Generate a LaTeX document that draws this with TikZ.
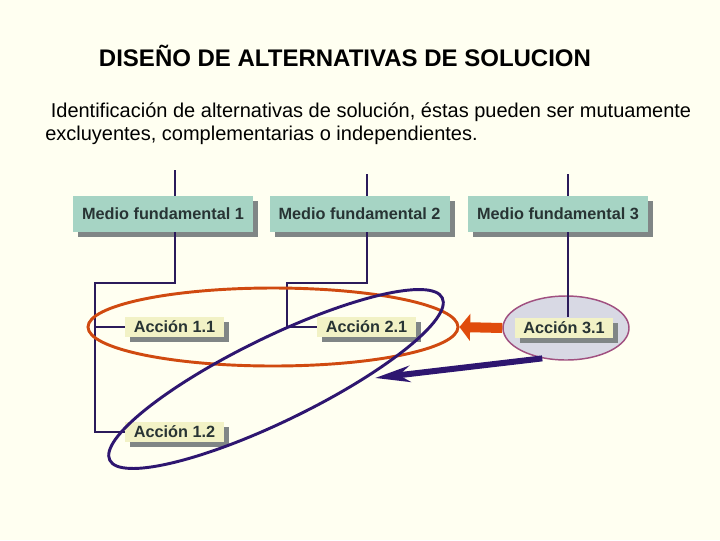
\documentclass[tikz,border=0pt]{standalone}
\usepackage{fontspec}
\setmainfont{Liberation Sans}
\usetikzlibrary{shapes.geometric,shadows,arrows.meta}
\definecolor{bgc}{RGB}{255,255,241}
\definecolor{tealbox}{RGB}{166,212,196}
\definecolor{yelbox}{RGB}{242,242,198}
\definecolor{shadowc}{RGB}{128,134,134}
\definecolor{boxtext}{RGB}{40,52,52}
\definecolor{connc}{RGB}{43,27,91}
\definecolor{orangec}{RGB}{208,74,16}
\definecolor{orangearr}{RGB}{224,76,12}
\definecolor{purplec}{RGB}{46,22,112}
\definecolor{ellfill}{RGB}{216,217,228}
\definecolor{elldraw}{RGB}{160,80,128}
\tikzset{
  mediobox/.style={rectangle, fill=tealbox, text=boxtext, font=\bfseries\fontsize{12.2pt}{14pt}\selectfont,
    minimum width=135pt, minimum height=27pt, inner sep=0pt,
    drop shadow={shadow xshift=3.75pt, shadow yshift=-3.75pt, fill=shadowc, opacity=1}},
  accionbox/.style={rectangle, fill=yelbox, text=boxtext, font=\bfseries\fontsize{12.2pt}{14pt}\selectfont,
    minimum width=74pt, minimum height=15pt, inner sep=0pt,
    drop shadow={shadow xshift=3.75pt, shadow yshift=-3.75pt, fill=shadowc, opacity=1}},
  conn/.style={draw=connc, line width=1.5pt},
  bodytext/.style={anchor=base west, inner sep=0pt, font=\fontsize{15pt}{18pt}\selectfont},
}
\begin{document}
\begin{tikzpicture}[x=0.75pt, y=0.75pt]
\useasboundingbox (0,0) rectangle (720,-540);
\fill[bgc] (0,0) rectangle (720,-540);

% texts
\node[inner sep=0pt, anchor=base, font=\bfseries\fontsize{18pt}{21pt}\selectfont] (title) at (345,-66) {DISEÑO DE ALTERNATIVAS DE SOLUCION};
\node[bodytext] (line1) at (45,-117) {\ Identificación de alternativas de solución, éstas pueden ser mutuamente};
\node[bodytext] (line2) at (45,-140) {excluyentes, complementarias o independientes.};

% ellipse behind Accion 3.1
\node[ellipse, draw=elldraw, fill=ellfill, line width=1.1pt, minimum width=94.5pt, minimum height=48pt, inner sep=0pt] (e3) at (566,-328) {};

% boxes
\node[mediobox] (m1) at (163,-214) {Medio fundamental 1};
\node[mediobox] (m2) at (359.5,-214) {Medio fundamental 2};
\node[mediobox] (m3) at (558,-214) {Medio fundamental 3};
\node[accionbox] (a11) at (174.5,-327) {Acción 1.1};
\node[accionbox] (a21) at (366.5,-327) {Acción 2.1};
\node[accionbox] (a12) at (174.5,-432) {Acción 1.2};
\node[accionbox] (a31) at (564,-327.5) {Acción 3.1};

% connector coordinates
\coordinate (t1) at (174.5,-170);
\coordinate (t2) at (366.5,-174);
\coordinate (t3) at (568,-174);
\coordinate (j1) at (95,-283);
\coordinate (j2) at (287,-283);

% connectors
\draw[conn] (t1) -- (t1 |- m1.north);
\draw[conn] (t2) -- (t2 |- m2.north);
\draw[conn] (t3) -- (t3 |- m3.north);
\draw[conn] (m1.south -| a11) |- (j1) |- (a12.west);
\draw[conn] (j1 |- a11) -- (a11.west);
\draw[conn] (m2.south -| a21) |- (j2) |- (a21.west);
\draw[conn, line width=1.2pt] (t3 |- m3.south) -- (t3 |- a31.north);

% grouping ellipses
\node[ellipse, draw=orangec, line width=2.2pt, minimum width=277.5pt, minimum height=58.5pt, inner sep=0pt] (eo) at (273,-327) {};
\node[ellipse, draw=purplec, line width=2.2pt, minimum width=277.5pt, minimum height=63pt, inner sep=0pt, rotate=26] (ep) at (276,-379) {};

% arrows
\draw[orangearr, line width=7.5pt, -{Triangle[length=8pt, width=20pt]}] (e3.west) -- (eo.east);
\coordinate (ptip) at (375,-378);
\draw[purplec, line width=4.5pt, -{Stealth[length=26pt, width=12pt, inset=8pt]}] (e3.232) -- (ptip);
\end{tikzpicture}
\end{document}
